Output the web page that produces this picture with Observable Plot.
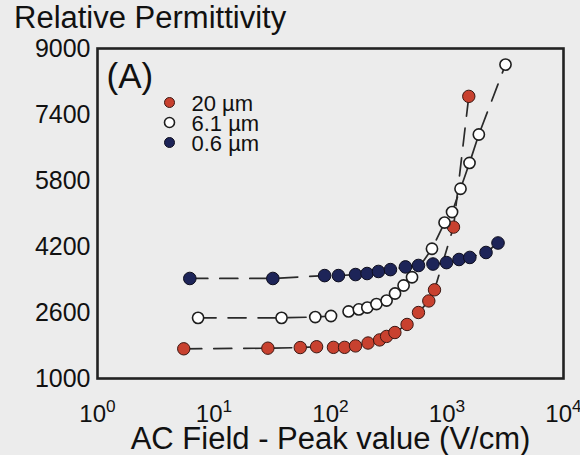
<!DOCTYPE html>
<html><head><meta charset="utf-8">
<script src="https://cdn.jsdelivr.net/npm/d3@7"></script>
<script src="https://cdn.jsdelivr.net/npm/@observablehq/plot@0.6"></script>
<style>
html,body{margin:0;padding:0;background:#ececec;}
body{position:relative;width:580px;height:455px;overflow:hidden;font-family:"Liberation Sans",Arial,sans-serif;}
#title{position:absolute;left:14px;top:0px;font-size:31px;color:#111;line-height:36px;white-space:nowrap;}
#chart{position:absolute;left:0;top:34px;}
svg{display:block;}
</style></head><body>
<div id="title">Relative Permittivity</div>
<div id="chart"></div>
<script>
// Series names
const seriesNames = ["20 µm", "6.1 µm", "0.6 µm"];
// 20 µm (red filled)
const field20 = [5.5, 29, 55, 76, 106, 132, 164, 210, 264, 303, 357, 454, 569, 698, 781, 1137, 1538];
const perm20  = [1720, 1735, 1750, 1770, 1755, 1755, 1790, 1860, 1935, 2020, 2115, 2310, 2600, 2880, 3150, 4670, 7840];
// 6.1 µm (open)
const field61 = [7.3, 38, 74, 101, 143, 175, 207, 248, 303, 358, 424, 501, 743, 953, 1105, 1306, 1560, 1876, 3178];
const perm61  = [2470, 2470, 2490, 2515, 2625, 2675, 2720, 2805, 2890, 3060, 3255, 3455, 4145, 4780, 5035, 5600, 6225, 6915, 8610];
// 0.6 µm (navy filled)
const field06 = [6.2, 32, 89, 117, 164, 206, 258, 327, 440, 569, 758, 990, 1268, 1570, 2162, 2741];
const perm06  = [3425, 3425, 3495, 3495, 3520, 3545, 3595, 3640, 3705, 3740, 3775, 3810, 3885, 3935, 4055, 4285];
// Axis ticks
const xTicks = [1, 10, 100, 1000, 10000];
const yTicks = [1000, 2600, 4200, 5800, 7400, 9000];

const fields = [field20, field61, field06];
const perms = [perm20, perm61, perm06];
const data = seriesNames.flatMap((s, i) => fields[i].map((f, j) => ({series: s, field: f, perm: perms[i][j]})));

const styles = {
  "20 µm": {fill: "#c8412f", stroke: "#3b1712", strokeWidth: 1, r: 6.2},
  "6.1 µm": {fill: "#ffffff", stroke: "#1e1e1e", strokeWidth: 1.6, r: 5.6},
  "0.6 µm": {fill: "#1d2458", stroke: "#0e0e1e", strokeWidth: 1, r: 6.3}
};

const marks = [];
seriesNames.forEach(s => {
  marks.push(Plot.line(data.filter(d => d.series === s), {x: "field", y: "perm", stroke: "#2a2a2a", strokeWidth: 1.7, strokeDasharray: "18,12"}));
});
seriesNames.forEach(s => {
  marks.push(Plot.dot(data.filter(d => d.series === s), {x: "field", y: "perm", ...styles[s]}));
});
// legend
seriesNames.forEach((s, i) => {
  marks.push(Plot.dot([s], {frameAnchor: "top-left", dx: 72, dy: 54 + i * 20, ...styles[s], r: 5}));
  marks.push(Plot.text([s], {frameAnchor: "top-left", lineAnchor: "middle", dx: 94, dy: 55 + i * 20, text: d => d, textAnchor: "start", fontSize: 22, fill: "#111"}));
});
marks.push(Plot.text(["(A)"], {frameAnchor: "top-left", lineAnchor: "middle", dx: 9, dy: 28, text: d => d, textAnchor: "start", fontSize: 35, fill: "#111"}));
marks.push(Plot.text(["AC Field - Peak value (V/cm)"], {frameAnchor: "bottom", lineAnchor: "middle", dy: 61, text: d => d, fontSize: 31, fill: "#111"}));
marks.push(Plot.axisX({ticks: xTicks, tickSize: 0, tickPadding: 26, tickFormat: d => "10^" + Math.round(Math.log10(d)), fontSize: 24, label: null, fill: "#111"}));
marks.push(Plot.axisY({ticks: yTicks, tickSize: 0, tickPadding: 7, tickFormat: d => String(d), fontSize: 25, label: null, fill: "#111"}));
marks.push(Plot.frame({stroke: "#222", strokeWidth: 2.6}));

const svg = Plot.plot({
  width: 580,
  height: 421,
  marginLeft: 97,
  marginRight: 17,
  marginTop: 14,
  marginBottom: 77,
  style: {background: "transparent", fontFamily: "'Liberation Sans', Arial, sans-serif", color: "#111"},
  x: {type: "log", domain: [1, 10000]},
  y: {type: "linear", domain: [1000, 9000]},
  marks
});
d3.select(svg).selectAll('g[aria-label="x-axis tick label"] text').each(function () {
  const t = d3.select(this);
  const parts = t.text().split("^");
  if (parts.length === 2) {
    t.text(parts[0]);
    t.append("tspan").attr("dy", "-0.55em").attr("font-size", "0.72em").text(parts[1]);
  }
});
document.getElementById("chart").appendChild(svg);
</script>
</body></html>
